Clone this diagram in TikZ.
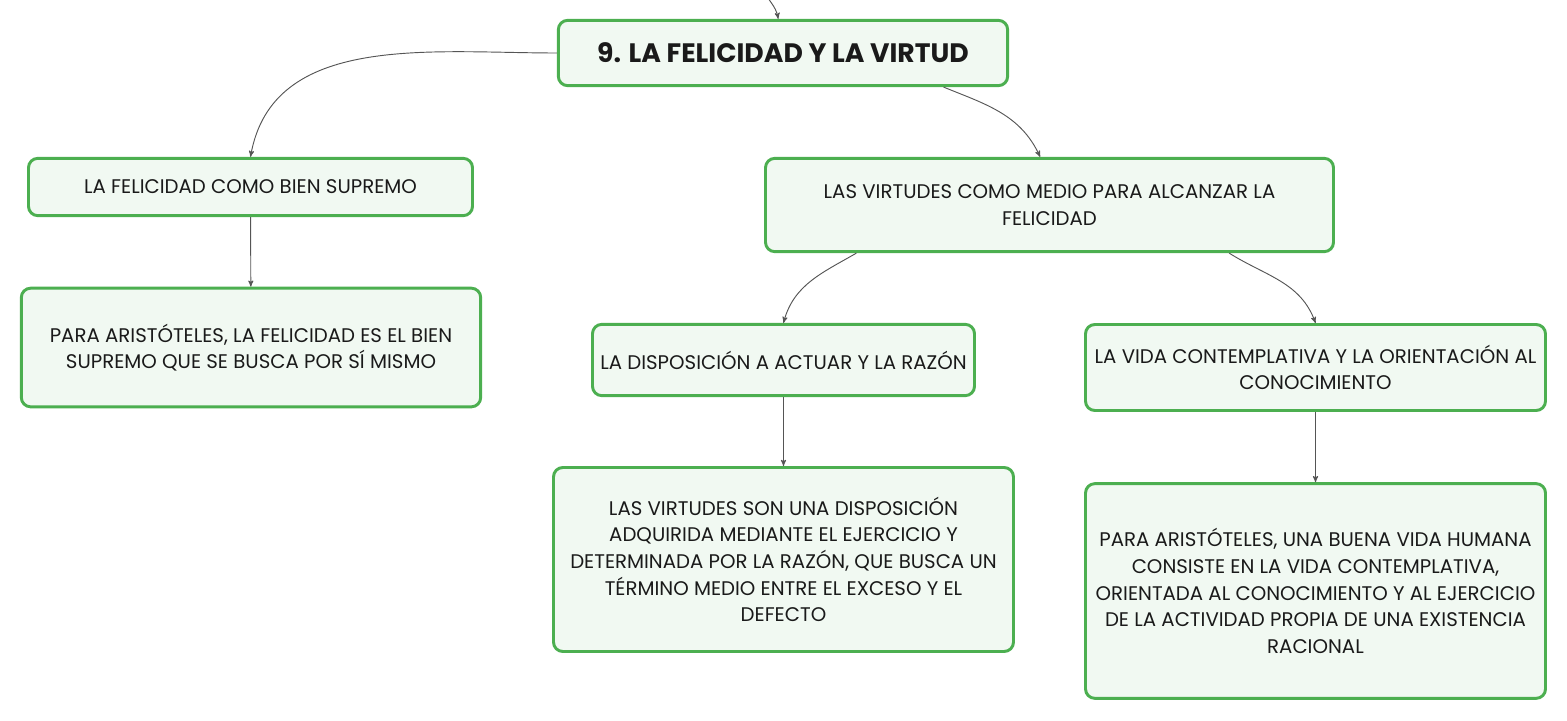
\documentclass[tikz,border=0pt]{standalone}
\usepackage{fontspec}
\setmainfont{Poppins}
\usetikzlibrary{arrows}
\definecolor{boxgreen}{HTML}{4CAF50}
\definecolor{boxfill}{HTML}{F1F9F2}
\definecolor{linkgray}{HTML}{555555}
\definecolor{inkblack}{HTML}{1A1A1A}
\tikzset{
  topic/.style={draw=boxgreen, fill=boxfill, line width=2.2pt, rounded corners=7pt,
    align=center, inner sep=0pt, text=inkblack, font=\fontsize{14.8}{20}\selectfont},
  maintopic/.style={topic, font=\bfseries\fontsize{20}{22}\selectfont},
  link/.style={->, draw=linkgray, line width=0.7pt}
}
\begin{document}
\begin{tikzpicture}[x=0.75pt,y=-0.75pt,>=stealth']
  \useasboundingbox (0,0) rectangle (1567,721);
  \node[maintopic, minimum width=337pt, minimum height=49pt] (felicidad) at (783,53) {9. LA FELICIDAD Y LA VIRTUD};
  \node[topic, minimum width=333pt, minimum height=43pt] (bien) at (250.5,187) {LA FELICIDAD COMO BIEN SUPREMO};
  \node[topic, minimum width=344.5pt, minimum height=89pt] (bien_txt) at (251,347.5) {PARA ARISTÓTELES, LA FELICIDAD ES EL BIEN\\SUPREMO QUE SE BUSCA POR SÍ MISMO};
  \node[topic, minimum width=426pt, minimum height=70pt] (virtudes) at (1049.5,205) {LAS VIRTUDES COMO MEDIO PARA ALCANZAR LA\\FELICIDAD};
  \node[topic, minimum width=286.5pt, minimum height=53.5pt] (razon) at (783.5,360) {LA DISPOSICIÓN A ACTUAR Y LA RAZÓN};
  \node[topic, minimum width=345pt, minimum height=138pt] (razon_txt) at (783.5,559.5) {LAS VIRTUDES SON UNA DISPOSICIÓN\\ADQUIRIDA MEDIANTE EL EJERCICIO Y\\DETERMINADA POR LA RAZÓN, QUE BUSCA UN\\TÉRMINO MEDIO ENTRE EL EXCESO Y EL\\DEFECTO};
  \node[topic, minimum width=345pt, minimum height=64.5pt] (vida) at (1315.5,367.5) {LA VIDA CONTEMPLATIVA Y LA ORIENTACIÓN AL\\CONOCIMIENTO};
  \node[topic, minimum width=345pt, minimum height=161pt] (vida_txt) at (1315.5,591) {PARA ARISTÓTELES, UNA BUENA VIDA HUMANA\\CONSISTE EN LA VIDA CONTEMPLATIVA,\\ORIENTADA AL CONOCIMIENTO Y AL EJERCICIO\\DE LA ACTIVIDAD PROPIA DE UNA EXISTENCIA\\RACIONAL};
  \coordinate (arriba) at (762,-12);
  \draw[link] (arriba) to[out=-65,in=100] (felicidad.98);
  \draw[link] (felicidad.west) to[out=180,in=80] (bien.north);
  \draw[link] (felicidad.348.8) to[out=-22,in=115] (virtudes.101);
  \draw[link] (bien) -- (bien_txt);
  \draw[link] (virtudes.194) to[out=-150,in=75] (razon.north);
  \draw[link] (virtudes.345.6) to[out=-32,in=110] (vida.north);
  \draw[link] (razon) -- (razon_txt);
  \draw[link] (vida) -- (vida_txt);
\end{tikzpicture}
\end{document}
